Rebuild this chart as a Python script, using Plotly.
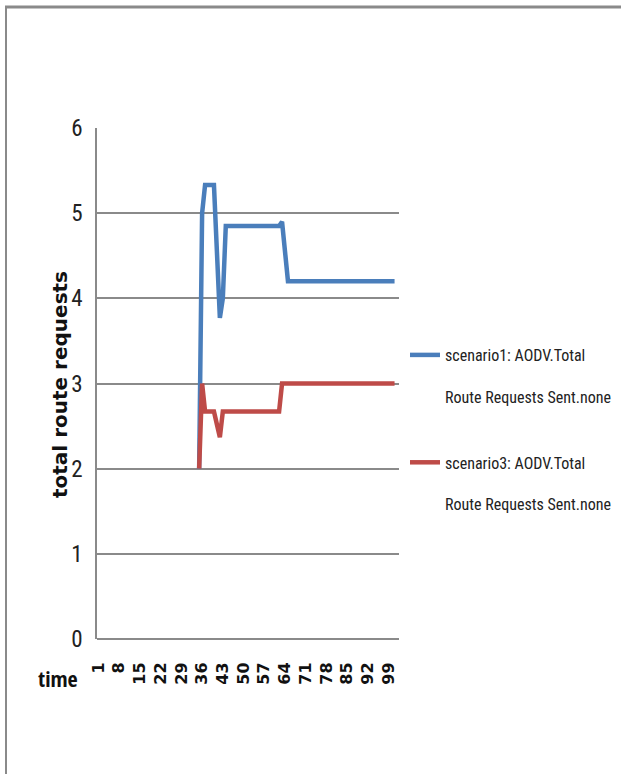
import plotly.graph_objects as go

# Simulation time steps (category axis) and tick labels
time = list(range(1, 102))
tick_vals = [1, 8, 15, 22, 29, 36, 43, 50, 57, 64, 71, 78, 85, 92, 99]
tick_text = [str(v) for v in tick_vals]

# Series start reporting at time 35
start_time = 35
scenario1 = [
    2.0, 5.0, 5.33, 5.33, 5.33, 5.33, 4.55, 3.77, 4.0, 4.85,
    4.85, 4.85, 4.85, 4.85, 4.85, 4.85, 4.85, 4.85, 4.85, 4.85,
    4.85, 4.85, 4.85, 4.85, 4.85, 4.85, 4.85, 4.85, 4.9, 4.55,
    4.2, 4.2, 4.2, 4.2, 4.2, 4.2, 4.2, 4.2, 4.2, 4.2,
    4.2, 4.2, 4.2, 4.2, 4.2, 4.2, 4.2, 4.2, 4.2, 4.2,
    4.2, 4.2, 4.2, 4.2, 4.2, 4.2, 4.2, 4.2, 4.2, 4.2,
    4.2, 4.2, 4.2, 4.2, 4.2, 4.2, 4.2,
]
scenario3 = [
    2.0, 3.0, 2.67, 2.67, 2.67, 2.67, 2.52, 2.37, 2.67, 2.67,
    2.67, 2.67, 2.67, 2.67, 2.67, 2.67, 2.67, 2.67, 2.67, 2.67,
    2.67, 2.67, 2.67, 2.67, 2.67, 2.67, 2.67, 2.67, 3.0, 3.0,
    3.0, 3.0, 3.0, 3.0, 3.0, 3.0, 3.0, 3.0, 3.0, 3.0,
    3.0, 3.0, 3.0, 3.0, 3.0, 3.0, 3.0, 3.0, 3.0, 3.0,
    3.0, 3.0, 3.0, 3.0, 3.0, 3.0, 3.0, 3.0, 3.0, 3.0,
    3.0, 3.0, 3.0, 3.0, 3.0, 3.0, 3.0,
]
series_names = [
    "scenario1: AODV.Total<br><br>Route Requests Sent.none",
    "scenario3: AODV.Total<br><br>Route Requests Sent.none",
]
colors = ["#4A7EBB", "#BE4B48"]

NARROW = "Roboto Condensed, DejaVu Sans Condensed, sans-serif"
NARROW_BOLD = "Open Sans Condensed, Roboto Condensed, sans-serif"

x_vals = [t for t in time if t >= start_time][: len(scenario1)]

fig = go.Figure()
for name, ys, col, grp in zip(series_names, [scenario1, scenario3], colors, ["a", "b"]):
    fig.add_trace(go.Scatter(
        x=x_vals, y=ys, mode="lines", name=name, legendgroup=grp,
        line=dict(color=col, width=4.5),
    ))

W, H = 621, 774
L, R, T, B = 97, 222, 128, 135
pw, ph = W - L - R, H - T - B


def px_x(p):
    return (p - L) / pw


def px_y(p):
    return (H - B - p) / ph


fig.update_layout(
    width=W, height=H,
    margin=dict(l=L, r=R, t=T, b=B, autoexpand=False),
    paper_bgcolor="white", plot_bgcolor="white",
    showlegend=True,
    legend=dict(
        x=px_x(405), y=px_y(338), xanchor="left", yanchor="top",
        font=dict(family=NARROW, size=16, color="#222"),
        valign="top", tracegroupgap=42, itemwidth=30,
        bgcolor="rgba(0,0,0,0)",
    ),
    xaxis=dict(
        range=[0.5, 102.5], tickmode="array", tickvals=tick_vals, ticktext=tick_text,
        tickangle=-90, showgrid=False, zeroline=False,
        showline=False,
        tickfont=dict(family="DejaVu Sans", size=16, color="#111", weight="bold"),
        ticks="outside", ticklen=16, tickcolor="rgba(0,0,0,0)",
    ),
    yaxis=dict(
        range=[0, 6], dtick=1, showgrid=True, gridcolor="#8a8a8a", gridwidth=1.5,
        zeroline=True, zerolinecolor="#8a8a8a", zerolinewidth=1.5,
        showline=True, linecolor="#8a8a8a", linewidth=1.5,
        tickfont=dict(family=NARROW, size=23, color="#222"),
        ticks="outside", ticklen=8, tickcolor="rgba(0,0,0,0)",
    ),
    annotations=[
        dict(text="total route requests", xref="paper", yref="paper",
             x=px_x(60), y=px_y(385), xanchor="center", yanchor="middle",
             textangle=-90, showarrow=False,
             font=dict(family="DejaVu Sans, sans-serif", size=20, color="#111",
                       weight="bold")),
        dict(text="time", xref="paper", yref="paper", x=px_x(58), y=px_y(678),
             xanchor="center", yanchor="middle", showarrow=False,
             font=dict(family=NARROW_BOLD, size=22, color="#111", weight="bold")),
    ],
    shapes=[
        dict(type="line", xref="paper", yref="paper", x0=px_x(5), x1=px_x(640),
             y0=px_y(7), y1=px_y(7), line=dict(color="#8a8a8a", width=3)),
        dict(type="line", xref="paper", yref="paper", x0=px_x(6), x1=px_x(6),
             y0=px_y(6), y1=px_y(800), line=dict(color="#8a8a8a", width=2)),
    ],
)

fig.write_html("out.html")
